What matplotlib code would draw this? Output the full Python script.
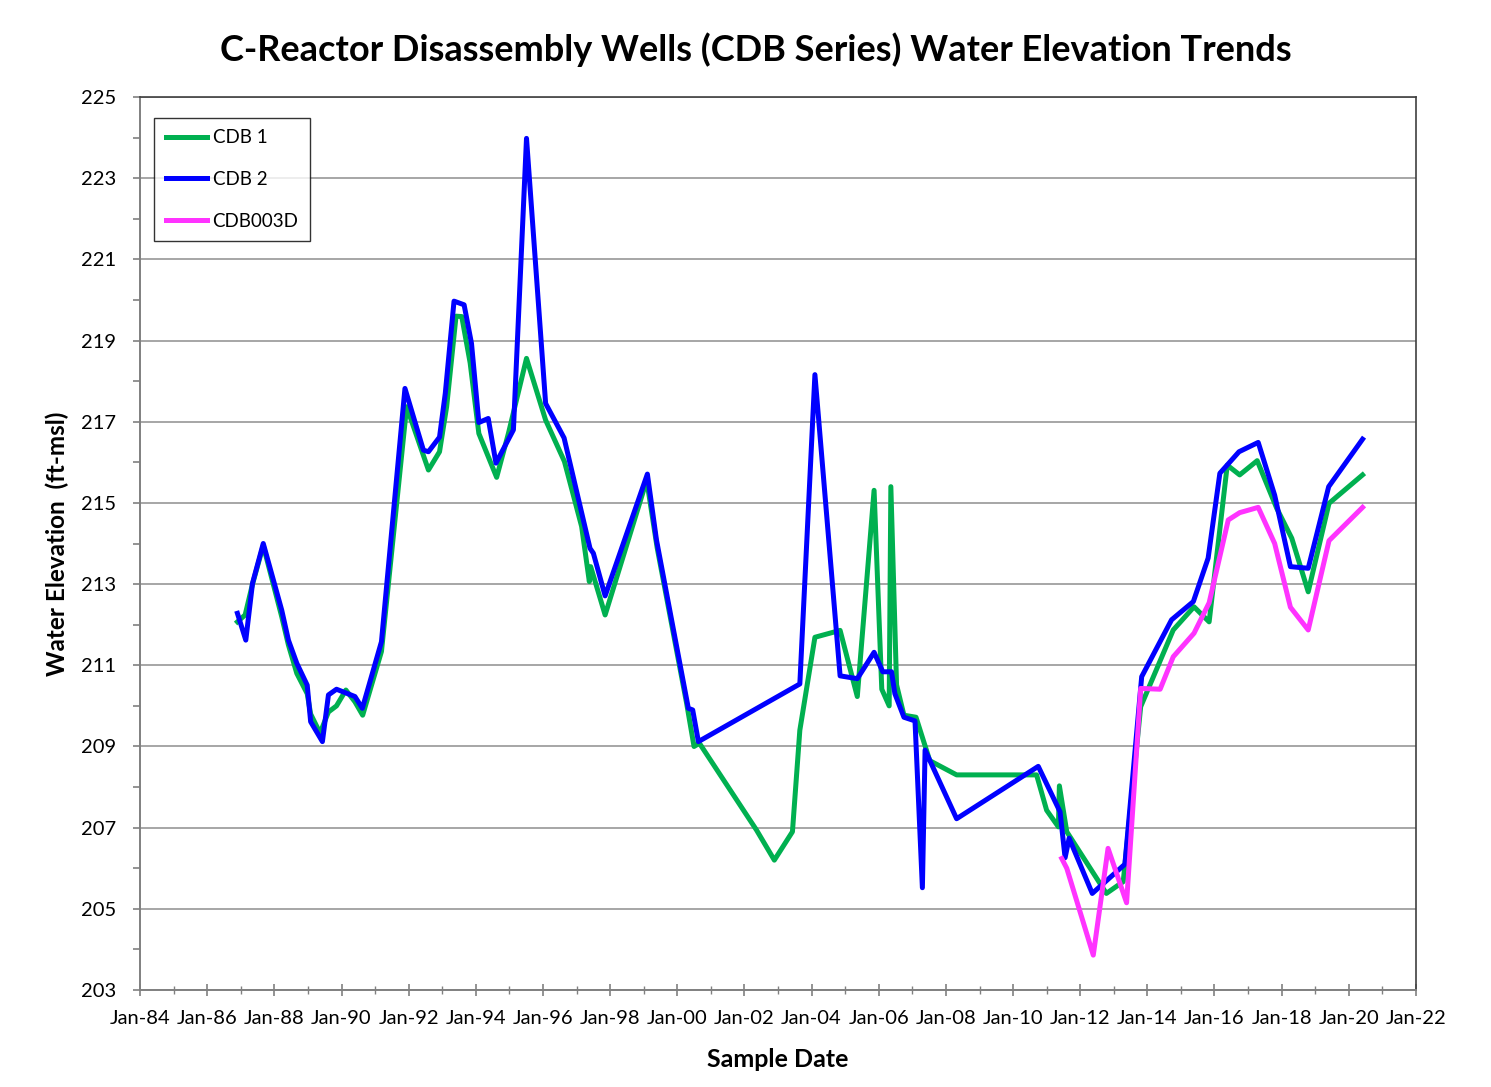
import matplotlib.pyplot as plt
import matplotlib.dates as mdates
from datetime import datetime, timedelta

plt.rcParams['font.family'] = ['Lato', 'DejaVu Sans']

# sample dates as decimal years, water elevations in ft-msl
cdb1_years = [1986.90, 1987.13, 1987.35, 1987.67, 1988.22, 1988.42, 1988.67, 1988.98,
              1989.08, 1989.36, 1989.61, 1989.85, 1990.13, 1990.40, 1990.63, 1991.19,
              1991.94, 1992.59, 1992.92, 1993.13, 1993.41, 1993.58, 1993.83, 1994.09,
              1994.62, 1994.97, 1995.51, 1996.08, 1996.64, 1997.15, 1997.38, 1997.42,
              1997.85, 1999.09, 1999.40, 2000.28, 2000.50, 2000.66, 2002.36, 2002.89,
              2003.43, 2003.65, 2004.10, 2004.85, 2005.36, 2005.86, 2006.09, 2006.31,
              2006.36, 2006.53, 2006.75, 2007.11, 2007.52, 2008.32, 2010.70, 2011.00,
              2011.35, 2011.38, 2011.60, 2012.78, 2013.28, 2013.80, 2014.77, 2015.39,
              2015.84, 2016.38, 2016.75, 2017.27, 2017.85, 2018.30, 2018.79, 2019.41,
              2020.41]
cdb1_elev = [212.07, 212.24, 213.00, 213.95, 212.20, 211.50, 210.80, 210.30,
             209.80, 209.33, 209.85, 210.00, 210.39, 210.10, 209.77, 211.34,
             217.37, 215.81, 216.26, 217.37, 219.60, 219.59, 218.45, 216.71,
             215.63, 216.71, 218.56, 217.04, 216.02, 214.42, 213.06, 213.43,
             212.24, 215.56, 213.90, 210.06, 209.00, 209.08, 206.94, 206.20,
             206.90, 209.40, 211.69, 211.86, 210.23, 215.31, 210.41, 210.00,
             215.40, 210.52, 209.77, 209.72, 208.65, 208.30, 208.30, 207.43,
             207.02, 208.03, 206.90, 205.38, 205.67, 209.98, 211.87, 212.44,
             212.07, 215.93, 215.69, 216.04, 214.87, 214.13, 212.81, 214.99,
             215.69]

cdb2_years = [1986.90, 1987.15, 1987.35, 1987.67, 1988.22, 1988.42, 1988.67, 1988.98,
              1989.08, 1989.43, 1989.61, 1989.85, 1990.40, 1990.62, 1991.19, 1991.89,
              1992.44, 1992.59, 1992.92, 1993.09, 1993.35, 1993.65, 1993.87, 1994.09,
              1994.37, 1994.60, 1995.12, 1995.51, 1996.08, 1996.63, 1997.40, 1997.50,
              1997.85, 1999.11, 1999.38, 2000.33, 2000.46, 2000.63, 2003.65, 2004.10,
              2004.85, 2005.36, 2005.86, 2006.12, 2006.38, 2006.48, 2006.75, 2007.08,
              2007.30, 2007.38, 2008.32, 2010.75, 2011.40, 2011.55, 2011.67, 2012.36,
              2013.33, 2013.83, 2014.72, 2015.37, 2015.81, 2016.16, 2016.73, 2017.30,
              2017.79, 2018.26, 2018.79, 2019.40, 2020.41]
cdb2_elev = [212.28, 211.62, 213.02, 214.00, 212.36, 211.62, 211.05, 210.51,
             209.61, 209.12, 210.27, 210.41, 210.23, 209.94, 211.58, 217.82,
             216.30, 216.26, 216.62, 217.70, 219.97, 219.88, 218.93, 216.98,
             217.08, 215.98, 216.80, 223.98, 217.45, 216.60, 213.88, 213.76,
             212.71, 215.71, 214.09, 209.94, 209.90, 209.12, 210.54, 218.16,
             210.74, 210.67, 211.32, 210.84, 210.84, 210.30, 209.72, 209.63,
             205.52, 208.91, 207.22, 208.51, 207.39, 206.26, 206.74, 205.38,
             206.10, 210.72, 212.12, 212.57, 213.64, 215.73, 216.26, 216.49,
             215.19, 213.43, 213.39, 215.40, 216.57]

cdb003d_years = [2011.45, 2011.60, 2012.39, 2012.83, 2013.38, 2013.80, 2014.38, 2014.77,
                 2015.39, 2015.84, 2016.41, 2016.75, 2017.30, 2017.79, 2018.26, 2018.79,
                 2019.41, 2020.41]
cdb003d_elev = [206.24, 206.00, 203.86, 206.49, 205.15, 210.43, 210.41, 211.21,
                211.79, 212.54, 214.58, 214.76, 214.89, 214.00, 212.43, 211.87,
                214.07, 214.89]


def to_dates(years):
    out = []
    for y in years:
        out.append(datetime(int(y), 1, 1) + timedelta(days=(y - int(y)) * 365.25))
    return out


fig = plt.figure(figsize=(14.91, 10.87), dpi=100)
ax = fig.add_axes([0.0939, 0.0892, 0.8558, 0.8216])

ax.plot(to_dates(cdb1_years), cdb1_elev, color='#00B050', lw=3.6, label='CDB 1', zorder=3)
ax.plot(to_dates(cdb2_years), cdb2_elev, color='#0000FF', lw=3.6, label='CDB 2', zorder=4)
ax.plot(to_dates(cdb003d_years), cdb003d_elev, color='#FF33FF', lw=3.6, label='CDB003D', zorder=5)

ax.set_xlim(datetime(1984, 1, 1), datetime(2022, 1, 1))
ax.set_ylim(203, 225)

ax.xaxis.set_major_locator(mdates.YearLocator(2))
ax.xaxis.set_minor_locator(mdates.YearLocator(1))
ax.xaxis.set_major_formatter(mdates.DateFormatter('%b-%y'))
ax.set_yticks(range(203, 226, 2))
ax.yaxis.set_minor_locator(plt.FixedLocator(range(204, 225, 2)))

ax.grid(axis='y', which='major', color='#A6A6A6', lw=1.4)
ax.set_axisbelow(True)

ax.tick_params(axis='x', which='major', direction='inout', length=9, width=1.2, color='#808080',
               labelsize=14.5, pad=10)
ax.tick_params(axis='x', which='minor', direction='inout', length=6, width=1.0, color='#808080')
ax.tick_params(axis='y', which='both', direction='out', length=5, width=1.2, color='#808080',
               labelsize=14.5, pad=12)

for side in ['left', 'bottom']:
    ax.spines[side].set_color('#808080')
    ax.spines[side].set_linewidth(1.4)
for side in ['top', 'right']:
    ax.spines[side].set_color('#404040')
    ax.spines[side].set_linewidth(1.2)

ax.set_xlabel('Sample Date', fontsize=18, fontweight='bold', labelpad=15)
ax.set_ylabel('Water Elevation  (ft-msl)', fontsize=17.5, fontweight='bold', labelpad=9)
fig.suptitle('C-Reactor Disassembly Wells (CDB Series) Water Elevation Trends',
             fontsize=26, fontweight='bold', x=0.507, y=0.97)

leg = ax.legend(loc='upper left', bbox_to_anchor=(0.011, 0.977), borderaxespad=0,
                fontsize=13.5, frameon=True, fancybox=False, edgecolor='black',
                handlelength=2.2, handletextpad=0.3, labelspacing=1.32, borderpad=0.62)
leg.get_frame().set_linewidth(1.0)

fig.savefig('out.png', dpi=100)
